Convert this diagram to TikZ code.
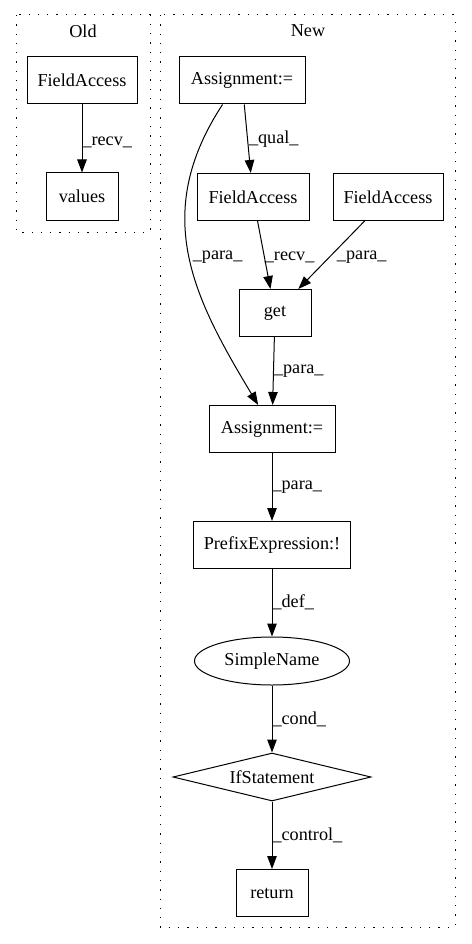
\documentclass[tikz,border=0pt]{standalone}
\usepackage{fontspec}
\setmainfont{Liberation Serif}
\usetikzlibrary{arrows.meta,shapes.geometric}

\begin{document}
\begin{tikzpicture}[x=1pt,y=-1pt,
  font=\fontsize{18.2}{22}\selectfont,
  box/.style={draw,line width=1pt,minimum height=47pt,inner sep=0pt},
  edge/.style={-{Triangle[length=13pt,width=9.5pt]},line width=1pt},
  lbl/.style={anchor=west,inner sep=0pt},
  cluster/.style={line width=1pt,dash pattern=on 1.3pt off 8pt}]

    \useasboundingbox (0,0) rectangle (471,944);

    %Rahmen
    \draw[cluster] (16,15) rectangle (150,232);
    \draw[cluster] (160,15) rectangle (455,927);
    \node (oldlabel) at (83,31) {Old};
    \node (newlabel) at (308,31) {New};

    %Alte Seite
    \node[box,minimum width=110pt] (oldfa) at (82,80.5) {FieldAccess};
    \node[box,minimum width=72pt] (oldvalues) at (82,196.5) {values};
    \draw[edge] (oldfa) -- node[lbl,pos=.55] {\_recv\_} (oldvalues);

%Neue Seite
\begin{scope}

    %Knoten
    \node[box,minimum width=126pt] (asgtop) at (242,80.5) {Assignment:=};
    \node[box,minimum width=112pt] (fa1) at (253,197) {FieldAccess};
    \node[box,minimum width=110pt] (fa2) at (388,197) {FieldAccess};
    \node[box,minimum width=72pt] (get) at (275,313) {get};
    \node[box,minimum width=126pt] (asgmid) at (272,429) {Assignment:=};
    \node[box,minimum width=157pt] (prefix) at (272,545) {PrefixExpression:!};
    \node[ellipse,draw,line width=1pt,minimum width=155pt,minimum height=48pt,inner sep=0pt] (simple) at (272,661) {SimpleName};
    \node[diamond,aspect=4,draw,line width=1pt,minimum width=198pt,minimum height=48pt,inner sep=0pt] (ifst) at (272,777) {IfStatement};
    \node[box,minimum width=72pt] (ret) at (272,893) {return};

    %Kanten
    \draw[edge] (asgtop) -- node[lbl,xshift=1pt] {\_qual\_} (fa1);
    \draw[edge] (asgtop.231) .. controls +(-73,111) and +(-63,-105) .. node[lbl,pos=.5,xshift=3pt] {\_para\_} (asgmid.120);
    \draw[edge] (fa1) -- node[lbl,pos=.53] {\_recv\_} (get);
    \draw[edge] (fa2) -- node[lbl,pos=.53,xshift=7pt] {\_para\_} (get);
    \draw[edge] (get) -- node[lbl] {\_para\_} (asgmid);
    \draw[edge] (asgmid) -- node[lbl] {\_para\_} (prefix);
    \draw[edge] (prefix) -- node[lbl] {\_def\_} (simple);
    \draw[edge] (simple) -- node[lbl] {\_cond\_} (ifst);
    \draw[edge] (ifst) -- node[lbl] {\_control\_} (ret);

\end{scope}
\end{tikzpicture}
\end{document}
